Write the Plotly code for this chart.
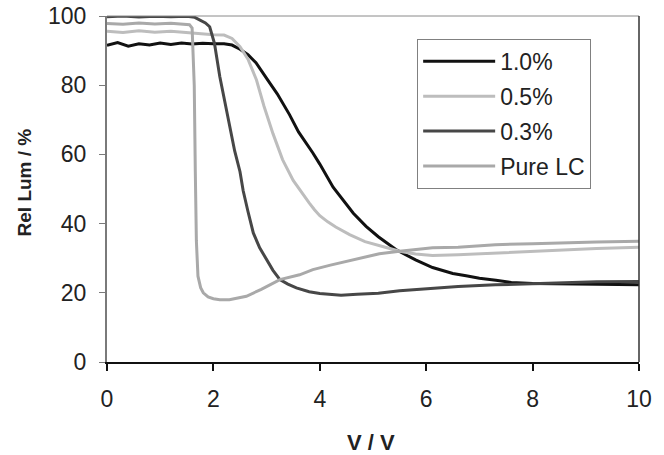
import plotly.graph_objects as go

# ---- data ----
v_10 = [0, 0.2, 0.4, 0.6, 0.8, 1.0, 1.2, 1.4, 1.6, 1.8, 2.0, 2.2, 2.35, 2.5, 2.65, 2.8, 3.0, 3.2,
        3.43, 3.6, 3.87, 4.0, 4.25, 4.5, 4.63, 4.87, 5.1, 5.43, 5.8, 6.12, 6.5, 6.75, 7.0, 7.31,
        7.6, 8.0, 8.5, 9.0, 9.5, 10]
lum_10 = [91.5, 92.3, 91.3, 92.0, 91.6, 92.2, 91.8, 92.2, 91.9, 92.1, 92.0, 92.0, 91.6, 90.4, 88.8,
          86.5, 82.0, 77.5, 71.5, 66.5, 60.4, 57.2, 50.5, 45.5, 43.0, 39.2, 36.2, 32.5, 29.5, 27.3,
          25.6, 24.9, 24.2, 23.6, 23.0, 22.7, 22.6, 22.4, 22.3, 22.3]

v_05 = [0, 0.3, 0.6, 0.9, 1.2, 1.5, 1.8, 2.0, 2.2, 2.35, 2.5, 2.65, 2.81, 2.95, 3.12, 3.3, 3.5,
        3.62, 3.8, 3.9, 4.0, 4.15, 4.3, 4.56, 4.85, 5.18, 5.5, 5.8, 6.12, 6.6, 7.3, 8.0, 8.6, 9.2, 10]
lum_05 = [95.6, 95.2, 95.7, 95.3, 95.6, 95.2, 94.8, 94.6, 94.5, 93.5, 91.1, 87.5, 81.5, 74.0, 66.0,
          58.5, 52.5, 49.8, 46.0, 44.0, 42.3, 40.5, 39.0, 36.8, 34.8, 33.4, 32.0, 31.2, 30.8, 31.0,
          31.5, 32.0, 32.4, 32.8, 33.2]

v_03 = [0, 0.3, 0.6, 0.9, 1.2, 1.5, 1.65, 1.74, 1.85, 1.93, 2.02, 2.12, 2.24, 2.31, 2.4, 2.5, 2.56,
        2.65, 2.75, 2.87, 3.0, 3.12, 3.25, 3.4, 3.56, 3.8, 4.0, 4.18, 4.4, 4.7, 5.1, 5.5, 6.0, 6.6,
        7.3, 8.0, 8.6, 9.2, 10]
lum_03 = [99.8, 100.0, 99.7, 99.9, 99.8, 99.9, 99.6, 98.8, 98.0, 96.9, 92.1, 82.5, 72.9, 67.5, 61.0,
          55.0, 49.5, 43.5, 37.3, 33.0, 29.6, 26.5, 23.8, 22.5, 21.4, 20.3, 19.8, 19.5, 19.3, 19.6,
          19.9, 20.6, 21.2, 21.8, 22.3, 22.7, 23.0, 23.2, 23.3]

v_lc = [0, 0.3, 0.6, 0.9, 1.2, 1.45, 1.55, 1.6, 1.64, 1.66, 1.68, 1.71, 1.76, 1.81, 1.9, 2.0, 2.12,
        2.3, 2.62, 2.9, 3.25, 3.62, 3.87, 4.2, 4.5, 4.87, 5.12, 5.5, 6.12, 6.6, 7.3, 8.0, 8.6, 9.2, 10]
lum_lc = [97.8, 97.6, 98.0, 97.7, 97.9, 97.6, 97.5, 96.5, 80.0, 55.0, 35.0, 24.8, 21.5, 20.0, 18.8,
          18.3, 18.0, 18.0, 19.0, 21.0, 23.8, 25.2, 26.7, 28.0, 29.1, 30.5, 31.3, 32.0, 33.0, 33.2,
          33.9, 34.2, 34.5, 34.7, 34.9]

series_names = ["1.0%", "0.5%", "0.3%", "Pure LC"]
x_ticks = [0, 2, 4, 6, 8, 10]
y_ticks = [0, 20, 40, 60, 80, 100]
x_title = "V / V"
y_title = "Rel Lum / %"

colors = ["#111111", "#bdbdbd", "#474747", "#a9a9a9"]
xs = [v_10, v_05, v_03, v_lc]
ys = [lum_10, lum_05, lum_03, lum_lc]

font_family = "Liberation Sans, Arial, sans-serif"

fig = go.Figure()
for name, x, y, c in zip(series_names, xs, ys, colors):
    fig.add_trace(go.Scatter(x=x, y=y, mode="lines", name=name, legendgroup=name,
                             line=dict(color=c, width=3)))

fig.update_layout(
    width=664, height=455,
    margin=dict(l=107, r=25, t=16, b=93),
    paper_bgcolor="white", plot_bgcolor="white",
    font=dict(family=font_family, color="#222222", size=23),
    showlegend=True,
    legend=dict(x=0.583, y=0.934, xanchor="left", yanchor="top",
                bordercolor="#808080", borderwidth=1, bgcolor="white",
                font=dict(size=23, color="#222222"), itemwidth=72,
                tracegroupgap=2),
    xaxis=dict(range=[0, 10], tickvals=x_ticks, showgrid=False, zeroline=False,
               showline=True, linecolor="#111111", linewidth=1.5, automargin=False,
               ticks="outside", ticklen=7, tickcolor="#111111", tickwidth=1.5,
               tickfont=dict(size=23), ticklabelstandoff=9, ticklabeloverflow="allow"),
    yaxis=dict(range=[0, 100], tickvals=y_ticks, showgrid=False, zeroline=False,
               showline=True, linecolor="#7a7a7a", linewidth=2, automargin=False,
               ticks="outside", ticklen=6, tickcolor="#7a7a7a", tickwidth=1,
               tickfont=dict(size=23), ticklabelstandoff=8, ticklabeloverflow="allow"),
    shapes=[
        dict(type="line", xref="paper", yref="paper", x0=0, x1=1, y0=1, y1=1,
             line=dict(color="#8a8a8a", width=1)),
        dict(type="line", xref="paper", yref="paper", x0=1, x1=1, y0=0, y1=1,
             line=dict(color="#333333", width=1.5)),
    ],
    annotations=[
        dict(text="<b>" + x_title + "</b>", xref="paper", yref="paper", x=0.496, y=-0.232,
             xanchor="center", yanchor="middle", showarrow=False,
             font=dict(size=22, color="#222222")),
        dict(text="<b>" + y_title + "</b>", xref="paper", yref="paper", x=-0.156, y=0.519,
             xanchor="center", yanchor="middle", showarrow=False, textangle=-90,
             font=dict(size=19, color="#222222")),
    ],
)

# remove the default page margin so the figure fills the window exactly
fig.write_html("out.html", config={"displayModeBar": False},
               post_script="document.body.style.margin='0';")
